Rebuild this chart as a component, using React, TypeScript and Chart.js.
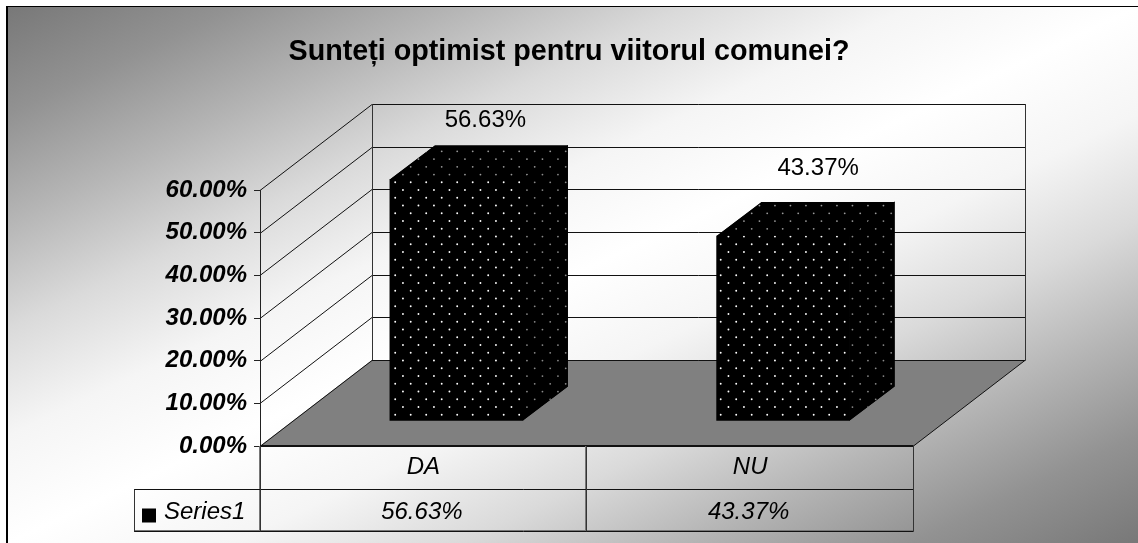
import React, { useEffect, useRef } from "react";
import { Chart, registerables } from "chart.js";

Chart.register(...registerables);

const categories = ["DA", "NU"];
const series1 = [56.63, 43.37];
const seriesName = "Series1";
const titleText = "Sunteți optimist pentru viitorul comunei?";
const yMax = 60;
const yStep = 10;

const FONT = '"Liberation Sans", Arial, sans-serif';
const WALL = { dx: 112, dy: -86 };
const BAR_SHIFT = { dx: 33, dy: -25 };
const BAR_DEPTH = { dx: 45, dy: -34 };
const LABEL_SHIFT = [{ dx: 29, dy: -59 }, { dx: 35, dy: -68 }];
const GRADIENT_STOPS: [number, number][] = [[0, 120], [0.1, 146], [0.2, 181], [0.3, 218], [0.4, 245], [0.5, 255]];
const PCT = (v: number) => v.toFixed(2) + "%";

function makePattern(ctx: CanvasRenderingContext2D, ox: number, oy: number, dot: string, radius: number) {
  const c = document.createElement("canvas");
  c.width = 31;
  c.height = 31;
  const g = c.getContext("2d")!;
  g.fillStyle = "#000";
  g.fillRect(0, 0, 31, 31);
  g.fillStyle = dot;
  for (let row = 0; row < 4; row++) {
    for (let col = 0; col < 2; col++) {
      const y = oy + row * 7.75;
      const x = ox + col * 15.5 + (row % 2 ? 7.75 : 0);
      for (const wx of [-31, 0, 31]) {
        for (const wy of [-31, 0, 31]) {
          g.beginPath();
          g.arc(x + wx, y + wy, radius, 0, Math.PI * 2);
          g.fill();
        }
      }
    }
  }
  return ctx.createPattern(c, "repeat")!;
}

function poly(ctx: CanvasRenderingContext2D, pts: number[][]) {
  ctx.beginPath();
  pts.forEach((p, i) => (i ? ctx.lineTo(p[0], p[1]) : ctx.moveTo(p[0], p[1])));
  ctx.closePath();
}

function line(ctx: CanvasRenderingContext2D, x1: number, y1: number, x2: number, y2: number) {
  ctx.beginPath();
  ctx.moveTo(x1, y1);
  ctx.lineTo(x2, y2);
  ctx.stroke();
}

const scenePlugin = {
  id: "scene",
  beforeDraw(chart: any) {
    const { ctx, width, height, chartArea: a, scales } = chart;
    const y = scales.y;
    ctx.save();
    ctx.fillStyle = "#fff";
    ctx.fillRect(0, 0, width, height);
    const x0 = 8, y0 = 7, w = width - x0, h = height - y0;
    const cx = x0 + w / 2, cy = y0 + h / 2;
    const len = Math.hypot(w, h);
    const dx = h / len, dy = w / len;
    const half = (w / 2) * dx + (h / 2) * dy;
    const grad = ctx.createLinearGradient(cx - half * dx, cy - half * dy, cx + half * dx, cy + half * dy);
    GRADIENT_STOPS.forEach(([t, g]) => {
      grad.addColorStop(t, `rgb(${g},${g},${g})`);
      grad.addColorStop(1 - t, `rgb(${g},${g},${g})`);
    });
    ctx.fillStyle = grad;
    ctx.fillRect(x0, y0, w, h);
    ctx.fillStyle = "#000";
    ctx.fillRect(6, 6, 2, height - 6);
    ctx.fillRect(6, 6, width - 6, 1);

    // floor
    const b = a.bottom;
    ctx.fillStyle = "#808080";
    poly(ctx, [[a.left, b], [a.left + WALL.dx, b + WALL.dy], [a.right + WALL.dx, b + WALL.dy], [a.right, b]]);
    ctx.fill();

    // walls and gridlines
    ctx.lineWidth = 1;
    ctx.strokeStyle = "#111";
    for (let v = 0; v <= yMax; v += yStep) {
      const py = Math.round(y.getPixelForValue(v)) + 0.5;
      line(ctx, a.left, py, a.left + WALL.dx, py + WALL.dy);
      line(ctx, a.left + WALL.dx, py + WALL.dy, a.right + WALL.dx, py + WALL.dy);
    }
    ctx.strokeStyle = "#333";
    line(ctx, a.left + WALL.dx + 0.5, y.getPixelForValue(yMax) + WALL.dy, a.left + WALL.dx + 0.5, b + WALL.dy);
    line(ctx, a.right + WALL.dx, y.getPixelForValue(yMax) + WALL.dy, a.right + WALL.dx, b + WALL.dy);
    ctx.strokeStyle = "#111";
    line(ctx, a.right, b, a.right + WALL.dx, b + WALL.dy);
    ctx.restore();
  },
  beforeDatasetsDraw(chart: any) {
    chart.ctx.save();
    chart.ctx.translate(BAR_SHIFT.dx, BAR_SHIFT.dy);
  },
  afterDatasetsDraw(chart: any) {
    const { ctx, chartArea: a, scales } = chart;
    ctx.restore();
    ctx.save();
    const sidePat = chart.$side;
    const topPat = chart.$top;
    const meta = chart.getDatasetMeta(0);
    meta.data.forEach((el: any, i: number) => {
      const l = el.x - el.width / 2 + BAR_SHIFT.dx;
      const r = el.x + el.width / 2 + BAR_SHIFT.dx;
      const t = el.y + BAR_SHIFT.dy;
      const bt = el.base + BAR_SHIFT.dy;
      const topFace = [[l, t], [l + BAR_DEPTH.dx, t + BAR_DEPTH.dy], [r + BAR_DEPTH.dx, t + BAR_DEPTH.dy], [r, t]];
      const sideFace = [[r, t], [r + BAR_DEPTH.dx, t + BAR_DEPTH.dy], [r + BAR_DEPTH.dx, bt + BAR_DEPTH.dy], [r, bt]];
      // black under both faces so their shared edge leaves no seam
      ctx.fillStyle = "#000";
      poly(ctx, [[l, t], [l + BAR_DEPTH.dx, t + BAR_DEPTH.dy], [r + BAR_DEPTH.dx, t + BAR_DEPTH.dy], [r + BAR_DEPTH.dx, bt + BAR_DEPTH.dy], [r, bt], [r, t]]);
      ctx.fill();
      ctx.fillStyle = topPat;
      poly(ctx, topFace);
      ctx.fill();
      ctx.fillStyle = sidePat;
      poly(ctx, sideFace);
      ctx.fill();
      ctx.strokeStyle = "#000";
      ctx.lineWidth = 1;
      line(ctx, r, t, r + BAR_DEPTH.dx, t + BAR_DEPTH.dy);
      ctx.fillStyle = "#000";
      ctx.font = `24px ${FONT}`;
      ctx.textAlign = "center";
      ctx.textBaseline = "middle";
      ctx.fillText(PCT(series1[i]), el.x + BAR_SHIFT.dx + LABEL_SHIFT[i].dx, t + LABEL_SHIFT[i].dy);
    });

    // data table
    const x = scales.x;
    const b = a.bottom;
    const rowH = 42.5;
    const cell = x.getPixelForTick(1) - x.getPixelForTick(0);
    const keyLeft = a.left - 126;
    ctx.strokeStyle = "#111";
    ctx.lineWidth = 2;
    line(ctx, a.left, b, a.right, b);
    ctx.lineWidth = 1;
    const r1 = Math.round(b + rowH) + 0.5;
    const r2 = Math.round(b + rowH * 2) + 0.5;
    ctx.strokeStyle = "#777";
    line(ctx, keyLeft, r2 - 1, a.right, r2 - 1);
    categories.forEach((_, i) => {
      const px = Math.floor(x.getPixelForTick(i) - cell / 2) + 0.5;
      line(ctx, px - 1, b, px - 1, r2);
    });
    ctx.strokeStyle = "#111";
    line(ctx, keyLeft, r1, a.right, r1);
    line(ctx, keyLeft, r2, a.right, r2);
    ctx.strokeStyle = "#333";
    line(ctx, keyLeft + 0.5, r1, keyLeft + 0.5, r2);
    categories.forEach((_, i) => {
      const px = Math.floor(x.getPixelForTick(i) - cell / 2) + 0.5;
      line(ctx, px, b, px, r2);
    });
    line(ctx, Math.floor(a.right) + 0.5, b, Math.floor(a.right) + 0.5, r2);

    ctx.fillStyle = "#000";
    ctx.font = `italic 24px ${FONT}`;
    ctx.textBaseline = "middle";
    ctx.textAlign = "center";
    series1.forEach((v, i) => ctx.fillText(PCT(v), x.getPixelForTick(i) - 1.5, r1 + rowH / 2 + 1.5));
    ctx.textAlign = "left";
    ctx.fillText(seriesName, keyLeft + 30, r1 + rowH / 2 + 1.5);
    ctx.fillRect(keyLeft + 8, r1 + 19, 14, 14);
    ctx.restore();
  },
};

export default function App() {
  const ref = useRef<HTMLCanvasElement>(null);
  useEffect(() => {
    const canvas = ref.current!;
    const ctx = canvas.getContext("2d")!;
    const front = makePattern(ctx, 5.7, 21.3, "#ffffff", 0.95);
    const chart: any = new Chart(canvas, {
      type: "bar",
      data: {
        labels: categories,
        datasets: [
          {
            label: seriesName,
            data: series1,
            backgroundColor: front,
            borderWidth: 0,
            barThickness: 133,
            clip: false,
          } as any,
        ],
      },
      options: {
        responsive: false,
        animation: false,
        devicePixelRatio: 1,
        layout: { padding: 0 },
        plugins: {
          legend: { display: false },
          tooltip: { enabled: false },
          title: {
            display: true,
            text: titleText,
            color: "#000",
            font: { family: FONT, size: 28.7, weight: "bold" },
            padding: { top: 34.5, bottom: 121.1 },
          },
        },
        scales: {
          x: {
            afterFit: (s: any) => { s.height = 97; },
            grid: { display: false },
            border: { display: false },
            ticks: {
              color: "#000",
              maxRotation: 0,
              autoSkip: false,
              padding: -1,
              font: { family: FONT, size: 24, style: "italic" },
            },
          },
          y: {
            min: 0,
            max: yMax,
            afterFit: (s: any) => { s.width = 260; },
            grid: { drawOnChartArea: false, drawTicks: true, tickLength: 6, color: "#222" },
            border: { display: true, color: "#222", width: 1 },
            ticks: {
              stepSize: yStep,
              color: "#000",
              padding: 7,
              callback: (v: any) => PCT(Number(v)),
              font: { family: FONT, size: 24, style: "italic", weight: "bold" },
            },
          },
          margin: {
            position: "right",
            afterFit: (s: any) => { s.width = 224.5; },
            grid: { display: false },
            border: { display: false },
            ticks: { display: false },
          },
        },
      } as any,
      plugins: [scenePlugin as any],
    });
    chart.$side = makePattern(ctx, 7.7, 27.3, "#8a8a8a", 0.9);
    chart.$top = makePattern(ctx, 7.7, 27.3, "#9a9a9a", 0.9);
    chart.draw();
    return () => chart.destroy();
  }, []);
  return (
    <div style={{ position: "fixed", left: 0, top: 0, width: 1138, height: 543 }}>
      <canvas ref={ref} width={1138} height={543} style={{ display: "block" }} />
    </div>
  );
}
